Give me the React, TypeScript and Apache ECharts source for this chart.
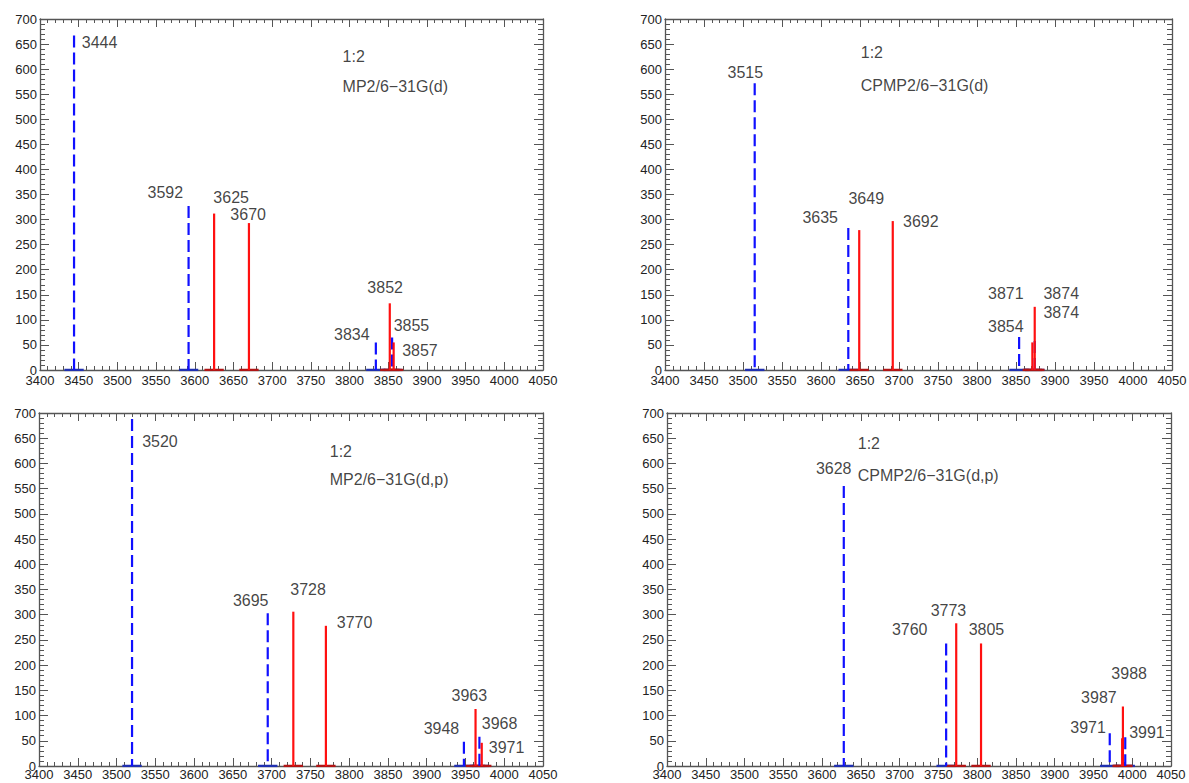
import React, { useEffect, useRef } from "react";
import * as echarts from "echarts";

// ---- data ----
const method = ["MP2/6−31G(d)", "CPMP2/6−31G(d)", "MP2/6−31G(d,p)", "CPMP2/6−31G(d,p)"];
const ratio = ["1:2", "1:2", "1:2", "1:2"];

// [wavenumber, intensity] – blue dashed (one set) and red solid (other set)
const blueTL = [[3444, 667], [3592, 327], [3834, 55], [3855, 65]];
const redTL = [[3625, 312], [3670, 293], [3852, 133], [3857, 55]];
const blueTR = [[3515, 572], [3635, 283], [3854, 66], [3874, 58]];
const redTR = [[3649, 279], [3692, 297], [3871, 55], [3874, 126]];
const blueBL = [[3520, 688], [3695, 303], [3948, 48], [3968, 58]];
const redBL = [[3728, 306], [3770, 278], [3963, 113], [3971, 46]];
const blueBR = [[3628, 555], [3760, 243], [3971, 65], [3991, 57]];
const redBR = [[3773, 283], [3805, 243], [3987, 55], [3988, 118]];

// peak labels: [text, anchor x, anchor y] (anchor in data units, centred)
const labelsTL = [["3444", 3477, 653], ["3592", 3562, 354], ["3625", 3647, 344], ["3670", 3669, 310], ["3852", 3846, 164], ["3834", 3803, 70], ["3855", 3880, 88], ["3857", 3891, 38]];
const labelsTR = [["3515", 3503, 593], ["3635", 3599, 304], ["3649", 3658, 342], ["3692", 3728, 297], ["3871", 3837, 153], ["3874", 3908, 153], ["3874", 3908, 115], ["3854", 3837, 86]];
const labelsBL = [["3520", 3556, 643], ["3695", 3673, 329], ["3728", 3747, 350], ["3770", 3807, 285], ["3963", 3955, 139], ["3948", 3919, 75], ["3968", 3994, 85], ["3971", 4003, 36]];
const labelsBR = [["3628", 3615, 590], ["3760", 3713, 271], ["3773", 3763, 309], ["3805", 3812, 271], ["3988", 3996, 184], ["3987", 3957, 136], ["3971", 3943, 77], ["3991", 4019, 66]];

// annotation anchor (left-aligned): [x, y of ratio line, y of method line]
const notePos = [[3791, 626, 565], [3651, 634, 568], [3775, 623, 569], [3646, 640, 577]];

const xMin = 3400, xMax = 4050, xStep = 50;
const yMin = 0, yMax = 700, yStep = 50;
const baseHalfWidth = 12.5;

const blues = [blueTL, blueTR, blueBL, blueBR];
const reds = [redTL, redTR, redBL, redBR];
const labels = [labelsTL, labelsTR, labelsBL, labelsBR];

const grids = [
  { left: 40, top: 19, width: 503, height: 351 },
  { left: 665, top: 19, width: 507, height: 351 },
  { left: 39, top: 413, width: 504, height: 353 },
  { left: 667, top: 413, width: 504, height: 353 },
];

const FONT = "'Liberation Sans', Arial, Helvetica, sans-serif";
const AX = "#555";

function buildOption() {
  const xAxis: any[] = [];
  const yAxis: any[] = [];
  const series: any[] = [];
  grids.forEach((g, p) => {
    const common = {
      type: "value",
      gridIndex: p,
      axisLine: { show: true, onZero: false, lineStyle: { color: AX, width: 1.3 } },
      splitLine: { show: false },
      minorSplitLine: { show: false },
    };
    xAxis.push({
      ...common, min: xMin, max: xMax, interval: xStep, position: "bottom",
      axisTick: { show: true, inside: true, length: 8, lineStyle: { color: AX } },
      minorTick: { show: true, splitNumber: 5, length: 4, lineStyle: { color: AX } },
      axisLabel: { show: true, fontSize: 13, color: "#222", margin: p >= 2 ? 2 : 4, fontFamily: FONT, formatter: (v: number) => String(v) },
    });
    xAxis.push({
      ...common, min: xMin, max: xMax, interval: xStep, position: "top",
      axisTick: { show: true, inside: true, length: 8, lineStyle: { color: AX } },
      minorTick: { show: true, splitNumber: 5, length: 4, lineStyle: { color: AX } },
      axisLabel: { show: false },
    });
    yAxis.push({
      ...common, min: yMin, max: yMax, interval: yStep, position: "left",
      axisTick: { show: true, inside: true, length: 9, lineStyle: { color: AX } },
      minorTick: { show: true, splitNumber: 5, length: 5, lineStyle: { color: AX } },
      axisLabel: { show: true, fontSize: 13, color: "#222", margin: 3, fontFamily: FONT, formatter: (v: number) => String(v) },
    });
    yAxis.push({
      ...common, min: yMin, max: yMax, interval: yStep, position: "right",
      axisTick: { show: true, inside: true, length: 9, lineStyle: { color: AX } },
      minorTick: { show: true, splitNumber: 5, length: 5, lineStyle: { color: AX } },
      axisLabel: { show: false },
    });

    const xi = 2 * p, yi = 2 * p;
    const addStick = (pk: number[], color: string, baseColor: string, dashed: boolean) => {
      series.push({
        type: "line", xAxisIndex: xi, yAxisIndex: yi, symbol: "none", silent: true,
        data: [[pk[0], pk[1]], [pk[0], 0]],
        lineStyle: { color, width: 2.2, type: dashed ? [12, 5] : "solid" },
        z: 3,
      });
      series.push({
        type: "line", xAxisIndex: xi, yAxisIndex: yi, symbol: "none", silent: true,
        data: [[pk[0] - baseHalfWidth, 0], [pk[0] + baseHalfWidth, 0]],
        lineStyle: { color: baseColor, width: 2.5 },
        z: 2,
      });
    };
    blues[p].forEach((pk) => addStick(pk, "#1010ff", "#2030b0", true));
    reds[p].forEach((pk) => addStick(pk, "#ff1010", "#b01515", false));

    series.push({
      type: "scatter", xAxisIndex: xi, yAxisIndex: yi, silent: true,
      symbolSize: 1, itemStyle: { color: "rgba(0,0,0,0)" },
      data: labels[p].map((l) => ({ name: l[0], value: [l[1], l[2]] })),
      label: {
        show: true, position: "inside", formatter: (d: any) => d.name,
        fontSize: 16, color: "#111", fontFamily: FONT, align: "center", verticalAlign: "middle",
      },
      z: 5,
    });
    const np = notePos[p];
    series.push({
      type: "scatter", xAxisIndex: xi, yAxisIndex: yi, silent: true,
      symbolSize: 1, itemStyle: { color: "rgba(0,0,0,0)" },
      data: [
        { name: ratio[p], value: [np[0], np[1]] },
        { name: method[p], value: [np[0], np[2]] },
      ],
      label: {
        show: true, position: "inside", formatter: (d: any) => d.name,
        fontSize: 16, color: "#111", fontFamily: FONT, align: "left", verticalAlign: "middle",
      },
      z: 5,
    });
  });

  return {
    animation: false,
    backgroundColor: "#fff",
    grid: grids.map((g) => ({ ...g, containLabel: false, outerBoundsMode: "none" })),
    xAxis,
    yAxis,
    series,
  };
}

export default function App() {
  const ref = useRef<HTMLDivElement>(null);
  useEffect(() => {
    if (!ref.current) return;
    const chart = echarts.init(ref.current, undefined, { renderer: "svg" });
    chart.setOption(buildOption() as any);
    return () => chart.dispose();
  }, []);
  return (
    <div
      ref={ref}
      style={{ position: "fixed", left: 0, top: 0, width: 1189, height: 783, background: "#fff" }}
    />
  );
}
